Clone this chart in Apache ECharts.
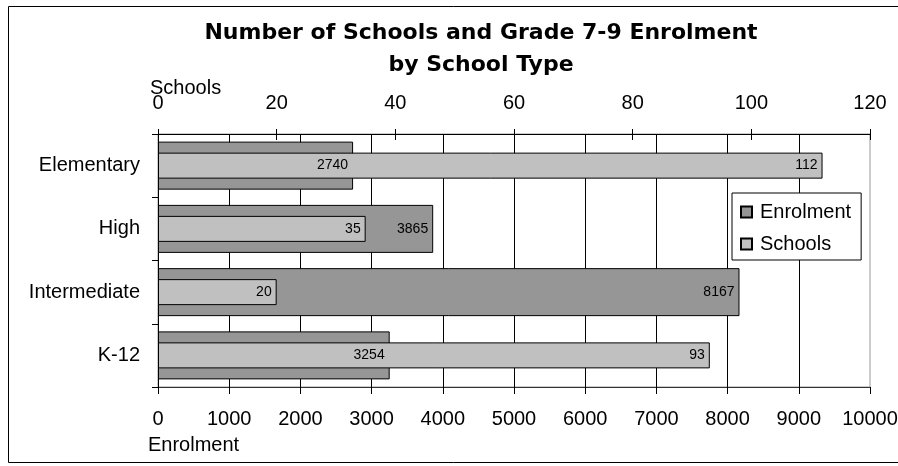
<!DOCTYPE html>
<html>
<head>
<meta charset="utf-8">
<script src="https://cdn.jsdelivr.net/npm/echarts@6/dist/echarts.min.js"></script>
<style>
  html, body { margin: 0; padding: 0; background: #fff; }
  #chart { width: 898px; height: 466px; }
</style>
</head>
<body>
<div id="chart"></div>
<script>
// School types, top to bottom
const categories = ['Elementary', 'High', 'Intermediate', 'K-12'];
// Grade 7-9 enrolment per school type (bottom axis)
const enrolment = [2740, 3865, 8167, 3254];
// Number of schools per school type (top axis)
const schools = [112, 35, 20, 93];
// Axis tick settings
const enrolmentTicks = { min: 0, max: 10000, interval: 1000 };
const schoolTicks = { min: 0, max: 120, interval: 20 };

const FONT = "'Liberation Sans', Arial, sans-serif";
const chart = echarts.init(document.getElementById('chart'), null, { renderer: 'canvas' });

const plainNumber = (v) => String(v);

const barLabel = {
  show: true,
  position: 'insideRight',
  distance: 5,
  color: '#000',
  fontFamily: FONT,
  fontSize: 14
};

chart.setOption({
  animation: false,
  backgroundColor: '#fff',
  title: {
    text: 'Number of Schools and Grade 7-9 Enrolment\nby School Type',
    left: 481,
    top: 17,
    textAlign: 'center',
    padding: 0,
    textStyle: {
      fontFamily: "'DejaVu Sans', sans-serif",
      fontWeight: 'bold',
      fontSize: 22,
      lineHeight: 32,
      color: '#000'
    }
  },
  legend: {
    orient: 'vertical',
    left: 732,
    top: 193,
    padding: [9, 10, 6, 8],
    itemGap: 12,
    itemWidth: 11,
    itemHeight: 11,
    backgroundColor: '#fff',
    borderColor: '#000',
    borderWidth: 1,
    borderRadius: 0,
    icon: 'rect',
    data: ['Enrolment', 'Schools'],
    textStyle: {
      fontFamily: FONT,
      fontSize: 20,
      lineHeight: 20,
      color: '#000',
      padding: [0, 0, 0, 3]
    }
  },
  grid: {
    left: 158,
    right: 28,
    top: 134,
    bottom: 79,
    outerBoundsMode: 'none',
    containLabel: false,
    show: true,
    borderColor: '#999',
    borderWidth: 1,
    backgroundColor: 'transparent'
  },
  xAxis: [
    {
      type: 'value',
      position: 'bottom',
      min: enrolmentTicks.min,
      max: enrolmentTicks.max,
      interval: enrolmentTicks.interval,
      name: 'Enrolment',
      nameLocation: 'start',
      nameGap: 10,
      nameMoveOverlap: false,
      nameTextStyle: {
        fontFamily: FONT, fontSize: 20, color: '#000',
        align: 'left', verticalAlign: 'top', padding: [48, 0, 0, 0]
      },
      axisLine: { show: true, lineStyle: { color: '#333', width: 1 } },
      axisTick: { show: true, length: 7, lineStyle: { color: '#000' } },
      axisLabel: { fontFamily: FONT, fontSize: 20, color: '#000', margin: 22, formatter: plainNumber },
      splitLine: { show: true, showMinLine: false, showMaxLine: false, lineStyle: { color: '#000', width: 1 } }
    },
    {
      type: 'value',
      position: 'top',
      min: schoolTicks.min,
      max: schoolTicks.max,
      interval: schoolTicks.interval,
      name: 'Schools',
      nameLocation: 'start',
      nameGap: 8,
      nameMoveOverlap: false,
      nameTextStyle: {
        fontFamily: FONT, fontSize: 20, color: '#000',
        align: 'left', verticalAlign: 'bottom', padding: [0, 0, 36, 0]
      },
      axisLine: { show: true, lineStyle: { color: '#000', width: 1 } },
      axisTick: { show: true, length: 5, lineStyle: { color: '#000' } },
      axisLabel: { fontFamily: FONT, fontSize: 20, color: '#000', margin: 21, formatter: plainNumber },
      splitLine: { show: false }
    },
    {
      // inner half of the crossing ticks on the schools axis
      type: 'value',
      position: 'top',
      min: schoolTicks.min,
      max: schoolTicks.max,
      interval: schoolTicks.interval,
      axisLine: { show: false },
      axisTick: { show: true, inside: true, length: 6, lineStyle: { color: '#000' } },
      axisLabel: { show: false },
      splitLine: { show: false }
    }
  ],
  yAxis: [
    {
      type: 'category',
      data: categories,
      inverse: true,
      axisLine: { show: true, lineStyle: { color: '#000', width: 1 } },
      axisTick: { show: true, length: 6, lineStyle: { color: '#000' } },
      axisLabel: { fontFamily: FONT, fontSize: 20, color: '#000', margin: 18 },
      splitLine: { show: false }
    },
    {
      type: 'category',
      data: categories,
      inverse: true,
      show: false
    }
  ],
  series: [
    {
      name: 'Enrolment',
      type: 'bar',
      xAxisIndex: 0,
      yAxisIndex: 0,
      data: enrolment,
      barWidth: 48,
      itemStyle: { color: '#969696', borderColor: '#000', borderWidth: 1 },
      label: barLabel,
      z: 2
    },
    {
      name: 'Schools',
      type: 'bar',
      xAxisIndex: 1,
      yAxisIndex: 1,
      data: schools,
      barWidth: 26,
      itemStyle: { color: '#c0c0c0', borderColor: '#000', borderWidth: 1 },
      label: barLabel,
      z: 2
    }
  ],
  graphic: [
    {
      type: 'rect',
      silent: true,
      shape: { x: 8.5, y: 6.5, width: 900, height: 456 },
      style: { fill: 'none', stroke: '#000', lineWidth: 1 },
      z: 100
    }
  ]
});
</script>
</body>
</html>
